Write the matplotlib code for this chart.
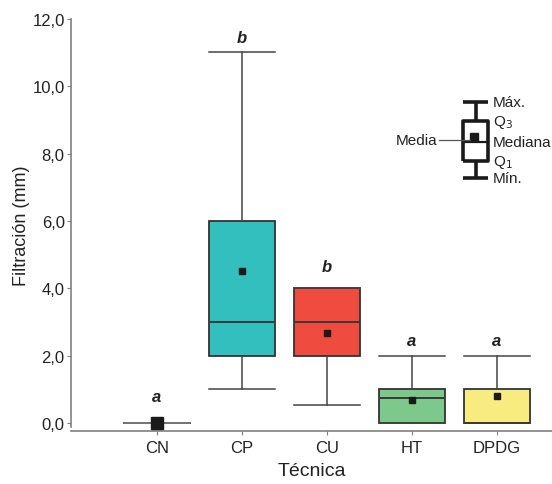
import numpy as np
import matplotlib.pyplot as plt
from matplotlib.ticker import FuncFormatter

plt.rcParams["font.family"] = ["Liberation Sans", "DejaVu Sans"]

tecnicas = ["CN", "CP", "CU", "HT", "DPDG"]
minimo = [0.0, 1.0, 0.53, 0.0, 0.0]
q1 = [0.0, 2.0, 2.0, 0.0, 0.0]
mediana = [0.0, 3.0, 3.0, 0.74, 0.0]
q3 = [0.0, 6.0, 4.0, 1.0, 1.0]
maximo = [0.0, 11.02, 4.0, 2.0, 2.0]
media = [0.0, 4.5, 2.67, 0.69, 0.8]
letras = ["a", "b", "b", "a", "a"]
letra_y = [0.78, 11.45, 4.66, 2.44, 2.44]
colores = ["#ffffff", "#33bfbd", "#ef4b3f", "#7cc98b", "#f8ec80"]

fig = plt.figure(figsize=(5.52, 4.85), dpi=100)
ax = fig.add_axes([0.1286, 0.1093, 0.8714, 0.8495])

pos = np.arange(1, len(tecnicas) + 1)
stats = []
for i, t in enumerate(tecnicas):
    stats.append(dict(label=t, med=mediana[i], q1=q1[i], q3=q3[i],
                      whislo=minimo[i], whishi=maximo[i], fliers=[]))

bp = ax.bxp(stats, positions=pos, widths=0.78, patch_artist=True,
            showfliers=False,
            boxprops=dict(edgecolor="#333333", linewidth=1.3),
            whiskerprops=dict(color="#444444", linewidth=1.1),
            capprops=dict(color="#444444", linewidth=1.1),
            medianprops=dict(color="#3a3a3a", linewidth=1.4),
            capwidths=0.78)
for patch, c in zip(bp["boxes"], colores):
    patch.set_facecolor(c)
bp["boxes"][0].set_visible(False)
bp["medians"][0].set_color("#777777")

for i in range(len(tecnicas)):
    ms = 8.5 if i == 0 else 4.3
    ax.plot(pos[i], media[i], marker="s", color="#1a1a1a", markersize=ms,
            linestyle="none", zorder=5)
    ax.text(pos[i], letra_y[i], letras[i], ha="center", va="center",
            fontsize=12, fontweight="bold", fontstyle="italic", color="#222222")

# leyenda esquematica
lx = 4.75
lw = 0.3
leg_max, leg_q3, leg_med, leg_q1, leg_min, leg_mean = 9.53, 8.96, 8.34, 7.77, 7.27, 8.5
k = dict(color="#1a1a1a", linewidth=2.6, solid_capstyle="butt", clip_on=False)
ax.plot([lx, lx], [leg_q3, leg_max], **k)
ax.plot([lx, lx], [leg_min, leg_q1], **k)
ax.plot([lx - lw / 2, lx + lw / 2], [leg_max, leg_max], **k)
ax.plot([lx - lw / 2, lx + lw / 2], [leg_min, leg_min], **k)
ax.plot([lx - lw / 2, lx + lw / 2, lx + lw / 2, lx - lw / 2, lx - lw / 2],
        [leg_q1, leg_q1, leg_q3, leg_q3, leg_q1], **k)
ax.plot([lx - lw / 2, lx + lw / 2], [leg_med, leg_med], color="#1a1a1a",
        linewidth=1.6)
ax.plot(lx - 0.02, leg_mean, marker="s", color="#1a1a1a", markersize=6)
ax.plot([lx - 0.43, lx - 0.07], [leg_mean - 0.1, leg_mean - 0.1],
        color="#555555", linewidth=0.9)
tx = lx + lw / 2 + 0.05
fs = 11
ax.text(tx, leg_max, "Máx.", fontsize=fs, va="center", color="#222222")
ax.text(tx, leg_q3, "Q$_3$", fontsize=fs, va="center", color="#222222")
ax.text(tx, leg_med, "Mediana", fontsize=fs, va="center", color="#222222")
ax.text(tx, leg_q1, "Q$_1$", fontsize=fs, va="center", color="#222222")
ax.text(tx, leg_min, "Mín.", fontsize=fs, va="center", color="#222222")
ax.text(lx - 0.45, leg_mean - 0.1, "Media", fontsize=fs, va="center",
        ha="right", color="#222222")

ax.set_xlim(-0.012, 5.65)
ax.set_ylim(-0.24, 12.0)
ax.set_yticks(np.arange(0, 12.1, 2))
ax.yaxis.set_major_formatter(FuncFormatter(lambda v, p: f"{v:.1f}".replace(".", ",")))
ax.set_xticks(pos)
ax.set_xticklabels(tecnicas)
for s in ["top", "right"]:
    ax.spines[s].set_visible(False)
for s in ["left", "bottom"]:
    ax.spines[s].set_color("#808080")
    ax.spines[s].set_linewidth(1.2)
ax.spines["left"].set_bounds(-0.12, 12.0)
ax.tick_params(colors="#808080", labelcolor="#222222", labelsize=12, length=3)
ax.tick_params(axis="y", pad=1.5)
ax.tick_params(axis="x", pad=3.5)
ax.set_ylabel("Filtración (mm)", fontsize=13, color="#222222", labelpad=2)
ax.set_xlabel("Técnica", fontsize=14, color="#222222", labelpad=5)

fig.savefig("out.png", dpi=100)
